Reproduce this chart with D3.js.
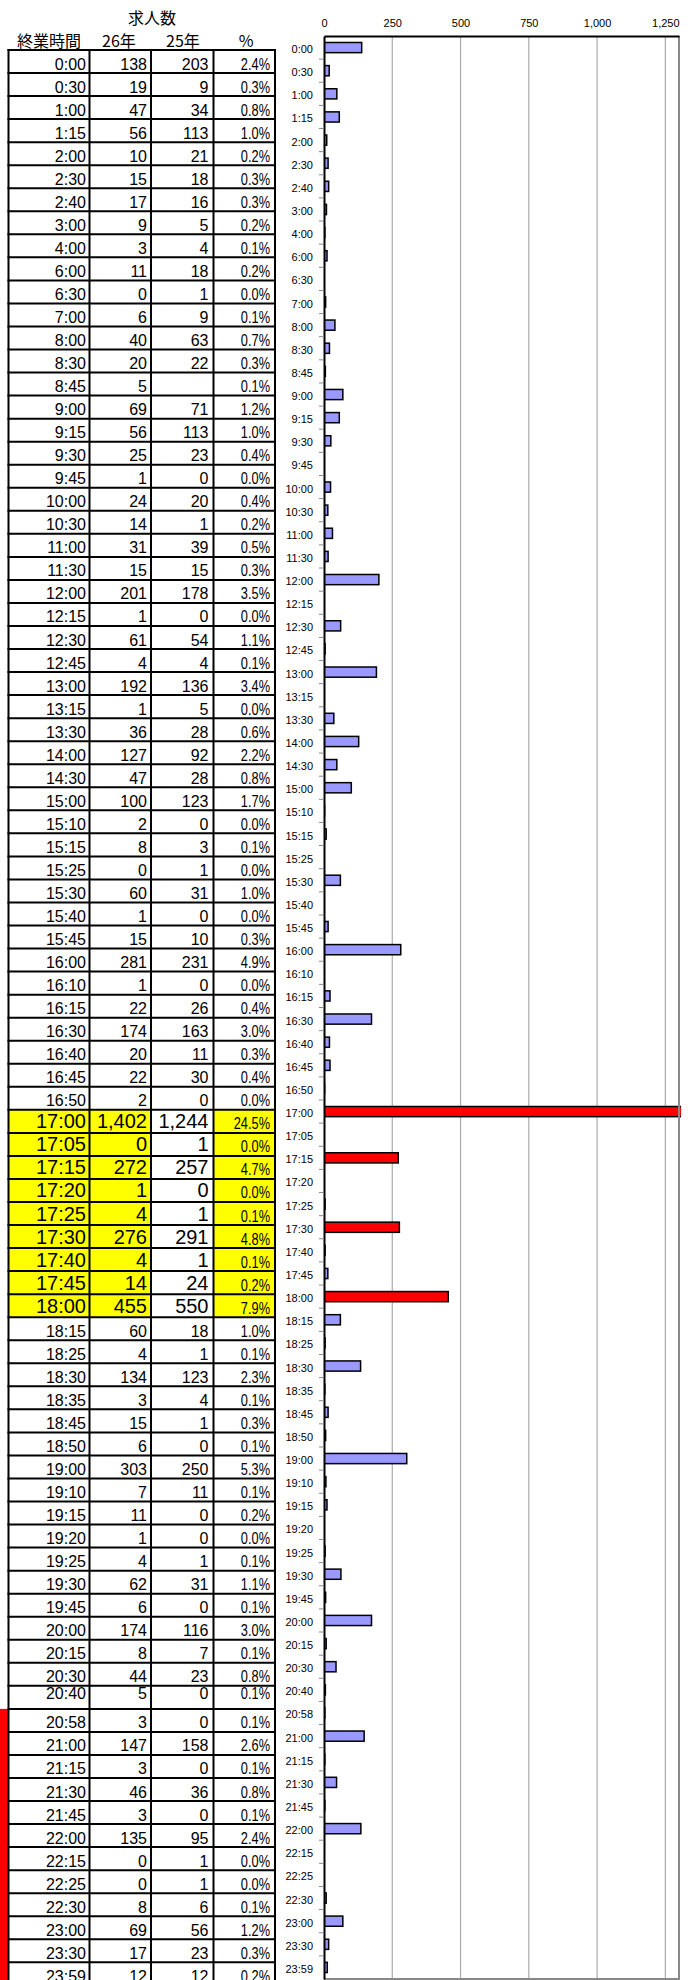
<!DOCTYPE html>
<html>
<head>
<meta charset="utf-8">
<script src="https://cdn.jsdelivr.net/npm/d3@7"></script>
<style>
  html, body { margin: 0; padding: 0; background: #fff; }
  svg { display: block; }
  text { font-family: "Liberation Sans", Arial, "Noto Sans CJK JP", sans-serif; fill: #000; }
  .cjk { font-family: "Noto Sans CJK JP", "Liberation Sans", sans-serif; }
</style>
</head>
<body>
<svg id="chart" width="691" height="1980"></svg>
<script>
// 終業時間ごとの求人数（26年・25年）と構成比
const times = [
  "0:00","0:30","1:00","1:15","2:00","2:30","2:40","3:00","4:00","6:00",
  "6:30","7:00","8:00","8:30","8:45","9:00","9:15","9:30","9:45","10:00",
  "10:30","11:00","11:30","12:00","12:15","12:30","12:45","13:00","13:15","13:30",
  "14:00","14:30","15:00","15:10","15:15","15:25","15:30","15:40","15:45","16:00",
  "16:10","16:15","16:30","16:40","16:45","16:50","17:00","17:05","17:15","17:20",
  "17:25","17:30","17:40","17:45","18:00","18:15","18:25","18:30","18:35","18:45",
  "18:50","19:00","19:10","19:15","19:20","19:25","19:30","19:45","20:00","20:15",
  "20:30","20:40","20:58","21:00","21:15","21:30","21:45","22:00","22:15","22:25",
  "22:30","23:00","23:30","23:59"
];
const jobs26 = [
  138,19,47,56,10,15,17,9,3,11,
  0,6,40,20,5,69,56,25,1,24,
  14,31,15,201,1,61,4,192,1,36,
  127,47,100,2,8,0,60,1,15,281,
  1,22,174,20,22,2,1402,0,272,1,
  4,276,4,14,455,60,4,134,3,15,
  6,303,7,11,1,4,62,6,174,8,
  44,5,3,147,3,46,3,135,0,0,
  8,69,17,12
];
const jobs25 = [
  203,9,34,113,21,18,16,5,4,18,
  1,9,63,22,null,71,113,23,0,20,
  1,39,15,178,0,54,4,136,5,28,
  92,28,123,0,3,1,31,0,10,231,
  0,26,163,11,30,0,1244,1,257,0,
  1,291,1,24,550,18,1,123,4,1,
  0,250,11,0,0,1,31,0,116,7,
  23,0,0,158,0,36,0,95,1,1,
  6,56,23,12
];
const share = [
  2.4,0.3,0.8,1.0,0.2,0.3,0.3,0.2,0.1,0.2,
  0.0,0.1,0.7,0.3,0.1,1.2,1.0,0.4,0.0,0.4,
  0.2,0.5,0.3,3.5,0.0,1.1,0.1,3.4,0.0,0.6,
  2.2,0.8,1.7,0.0,0.1,0.0,1.0,0.0,0.3,4.9,
  0.0,0.4,3.0,0.3,0.4,0.0,24.5,0.0,4.7,0.0,
  0.1,4.8,0.1,0.2,7.9,1.0,0.1,2.3,0.1,0.3,
  0.1,5.3,0.1,0.2,0.0,0.1,1.1,0.1,3.0,0.1,
  0.8,0.1,0.1,2.6,0.1,0.8,0.1,2.4,0.0,0.0,
  0.1,1.2,0.3,0.2
];
const xTicks = [0, 250, 500, 750, 1000, 1250];
const highlightTimes = ["17:00","17:05","17:15","17:20","17:25","17:30","17:40","17:45","18:00"];
const redBarTimes = ["17:00","17:15","17:30","18:00"];
const raisedTextTimes = ["20:40"];
const markedFrom = "20:58";

const headTitle = "求人数";
const headCols = ["終業時間", "26年", "25年", "%"];

const rows = times.map((t, i) => ({ t, a: jobs26[i], b: jobs25[i], p: share[i], i }));
const hl = new Set(highlightTimes);
const red = new Set(redBarTimes);
const raised = new Set(raisedTextTimes);

const svg = d3.select("#chart");
const fmt = d3.format(",");
const fmtPct = v => d3.format(".1f")(v) + "%";

/* ---------------- table ---------------- */
const tableTop = 50, rowH = 23.04;
const colEdges = [8.5, 89.5, 151, 213.5, 275];
const rowY = d3.scaleLinear().domain([0, 1]).range([tableTop, tableTop + rowH]);

const table = svg.append("g");

// left red marker for the late rows
const markIdx = times.indexOf(markedFrom);
table.append("rect")
  .attr("x", 0).attr("width", 8)
  .attr("y", rowY(markIdx)).attr("height", 1980 - rowY(markIdx))
  .attr("fill", "#ff0000");

// yellow cell fills
const hlRows = rows.filter(r => hl.has(r.t));
[0, 1, 3].forEach(c => {
  table.selectAll(null).data(hlRows).join("rect")
    .attr("x", colEdges[c]).attr("width", colEdges[c + 1] - colEdges[c])
    .attr("y", r => rowY(r.i)).attr("height", rowH)
    .attr("fill", "#ffff00");
});

// header
table.append("text").attr("class", "cjk")
  .attr("x", 152).attr("y", 24).attr("text-anchor", "middle")
  .attr("font-size", 16).text(headTitle);
const headX = [49, 119, 183, 246];
table.selectAll(".hd").data(headCols).join("text")
  .attr("class", "hd cjk")
  .attr("x", (d, i) => headX[i]).attr("y", 47)
  .attr("text-anchor", "middle")
  .attr("font-size", 16).text(d => d);

// cell text
const cellText = table.selectAll(".row").data(rows).join("g").attr("class", "row");
const baseline = r => rowY(r.i) + (raised.has(r.t) ? 13.5 : (hl.has(r.t) ? 18.5 : 19.5));
cellText.append("text")
  .attr("x", colEdges[1] - 3.5).attr("y", baseline)
  .attr("text-anchor", "end")
  .attr("font-size", r => hl.has(r.t) ? 20 : 16)
  .text(r => r.t);
cellText.append("text")
  .attr("x", colEdges[2] - 4).attr("y", baseline)
  .attr("text-anchor", "end")
  .attr("font-size", r => hl.has(r.t) ? 20 : 16)
  .text(r => fmt(r.a));
cellText.append("text")
  .attr("x", colEdges[3] - 5).attr("y", baseline)
  .attr("text-anchor", "end")
  .attr("font-size", r => hl.has(r.t) ? 20 : 16)
  .text(r => r.b == null ? "" : fmt(r.b));
cellText.append("text")
  .attr("transform", r => `translate(${colEdges[4] - 5},${baseline(r) + (hl.has(r.t) ? 1 : 0)}) scale(0.8,1)`)
  .attr("text-anchor", "end")
  .attr("font-size", 16)
  .text(r => fmtPct(r.p));

// grid lines of the table
const lineIdx = d3.range(0, times.length + 1);
table.selectAll(".hl").data(lineIdx).join("line")
  .attr("x1", colEdges[0] - 1).attr("x2", colEdges[4] + 1)
  .attr("y1", i => rowY(i)).attr("y2", i => rowY(i))
  .attr("stroke", "#000").attr("stroke-width", 2);
table.selectAll(".vl").data(colEdges).join("line")
  .attr("x1", d => d).attr("x2", d => d)
  .attr("y1", tableTop - 1).attr("y2", 1980)
  .attr("stroke", "#000").attr("stroke-width", 2);

/* ---------------- bar chart ---------------- */
const plot = { left: 324, right: 679, top: 36, bottom: 1979 };
const x = d3.scaleLinear().domain([0, 1300]).range([plot.left, plot.right]);
const y = d3.scaleBand().domain(times).range([plot.top, plot.bottom]).paddingInner(0.56).paddingOuter(0.28);
const yStep = y.step();

const chart = svg.append("g");

// vertical gridlines
chart.selectAll(".grid").data(xTicks.filter(d => d > 0)).join("line")
  .attr("x1", d => x(d)).attr("x2", d => x(d))
  .attr("y1", plot.top).attr("y2", plot.bottom)
  .attr("stroke", "#aaaaaa").attr("stroke-width", 1.2);

// bars
svg.append("clipPath").attr("id", "plotClip")
  .append("rect").attr("x", plot.left).attr("y", plot.top)
  .attr("width", plot.right - plot.left + 2).attr("height", plot.bottom - plot.top);

chart.append("g").attr("clip-path", "url(#plotClip)")
  .selectAll("rect").data(rows.filter(r => r.a > 0)).join("rect")
  .attr("x", x(0))
  .attr("y", r => y(r.t))
  .attr("width", r => x(r.a) - x(0))
  .attr("height", y.bandwidth())
  .attr("fill", r => red.has(r.t) ? "#ff0000" : "#9999ff")
  .attr("stroke", "#000").attr("stroke-width", 1.5);

// plot frame: gray right/bottom, black top/left axes
chart.append("line")
  .attr("x1", plot.right).attr("x2", plot.right)
  .attr("y1", plot.top).attr("y2", plot.bottom)
  .attr("stroke", "#888").attr("stroke-width", 2);
chart.append("line")
  .attr("x1", plot.left).attr("x2", plot.right + 1)
  .attr("y1", plot.bottom).attr("y2", plot.bottom)
  .attr("stroke", "#888").attr("stroke-width", 2);

// top value axis
const xAxis = chart.append("g")
  .attr("transform", `translate(0,${plot.top})`)
  .call(d3.axisTop(x).tickValues(xTicks).tickSize(0).tickPadding(9).tickFormat(fmt));
xAxis.select(".domain").attr("stroke", "#000").attr("stroke-width", 2);
xAxis.selectAll("text").attr("font-size", 11).attr("font-family", "Liberation Sans, Arial, sans-serif");

// left category axis
const yAxis = chart.append("g")
  .attr("transform", `translate(${plot.left},0)`)
  .call(d3.axisLeft(y).tickSize(0).tickPadding(11));
yAxis.select(".domain").attr("stroke", "#000").attr("stroke-width", 2);
yAxis.selectAll("text").attr("font-size", 11).attr("dy", "0.5em")
  .attr("font-family", "Liberation Sans, Arial, sans-serif");

// tick marks between categories
chart.selectAll(".ytick").data(d3.range(1, times.length)).join("line")
  .attr("x1", plot.left - 5).attr("x2", plot.left)
  .attr("y1", i => plot.top + i * yStep).attr("y2", i => plot.top + i * yStep)
  .attr("stroke", "#888").attr("stroke-width", 1);
</script>
</body>
</html>
